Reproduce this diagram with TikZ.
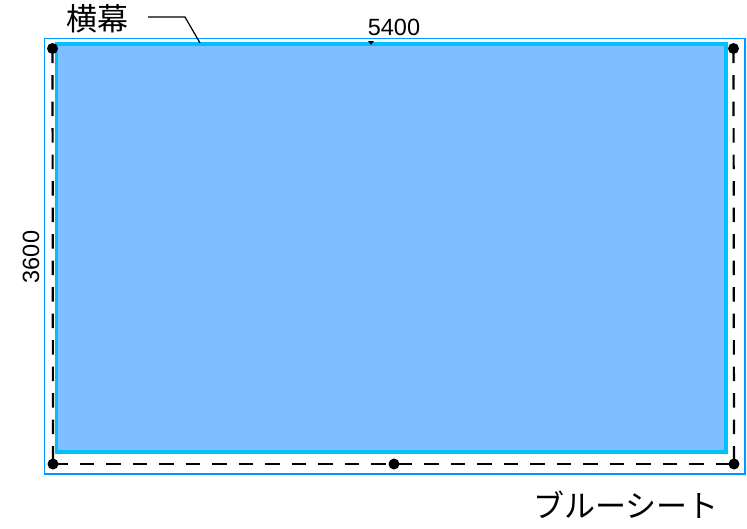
\documentclass[tikz,border=0pt]{standalone}
\usepackage{fontspec}
\setmainfont{Liberation Sans}
\newfontfamily\jpfont{Noto Sans CJK JP}
\definecolor{frameblue}{RGB}{0,153,255}
\definecolor{sheetedge}{RGB}{0,192,255}
\definecolor{sheetfill}{RGB}{128,191,255}
\begin{document}
\begin{tikzpicture}[x=1pt,y=-1pt,
  outerframe/.style={draw=frameblue,line width=1.6pt},
  sheet/.style={draw=sheetedge,fill=sheetfill,line width=3.5pt},
  dot/.style={circle,fill=black,inner sep=0pt,minimum size=11pt},
  ropeline/.style={draw=black,line width=2.2pt,dash pattern=on 14.5pt off 12pt},
  dimtext/.style={font=\fontsize{23.5}{26}\selectfont,inner sep=0pt},
  jptext/.style={font=\jpfont\fontsize{31}{34}\selectfont,inner sep=0pt},
  leader/.style={draw=black,line width=1.2pt}]
\useasboundingbox (0,0) rectangle (747,528);
\draw[outerframe] (44.3,38.3) rectangle (744.7,474);
\draw[sheet] (56.3,44) rectangle (726,452);
% rope corner dots
\node[dot] (tl) at (52.5,48.5) {};
\node[dot] (tr) at (733.5,48.5) {};
\node[dot] (bl) at (53,464) {};
\node[dot] (bm) at (394,464) {};
\node[dot] (br) at (734,464) {};
\draw[ropeline] (bl.center) -- (br.center);
\draw[ropeline] (tl.center) -- (bl.center);
\draw[ropeline] (tr.center) -- (br.center);
% dimension texts
\node[dimtext] (w) at (394,27) {5400};
\node[dimtext,rotate=90] (h) at (31,257) {3600};
\fill (368,41) -- (374,41) -- (371,45) -- cycle;
% labels
\node[jptext] (yoko) at (97,19) {横幕};
\node[jptext] (blue) at (626,505) {ブルーシート};
\coordinate (ld1) at (148,17);
\coordinate (ld2) at (185,17);
\coordinate (ld3) at (200,43);
\draw[leader] (ld1) -- (ld2) -- (ld3);
\end{tikzpicture}
\end{document}
